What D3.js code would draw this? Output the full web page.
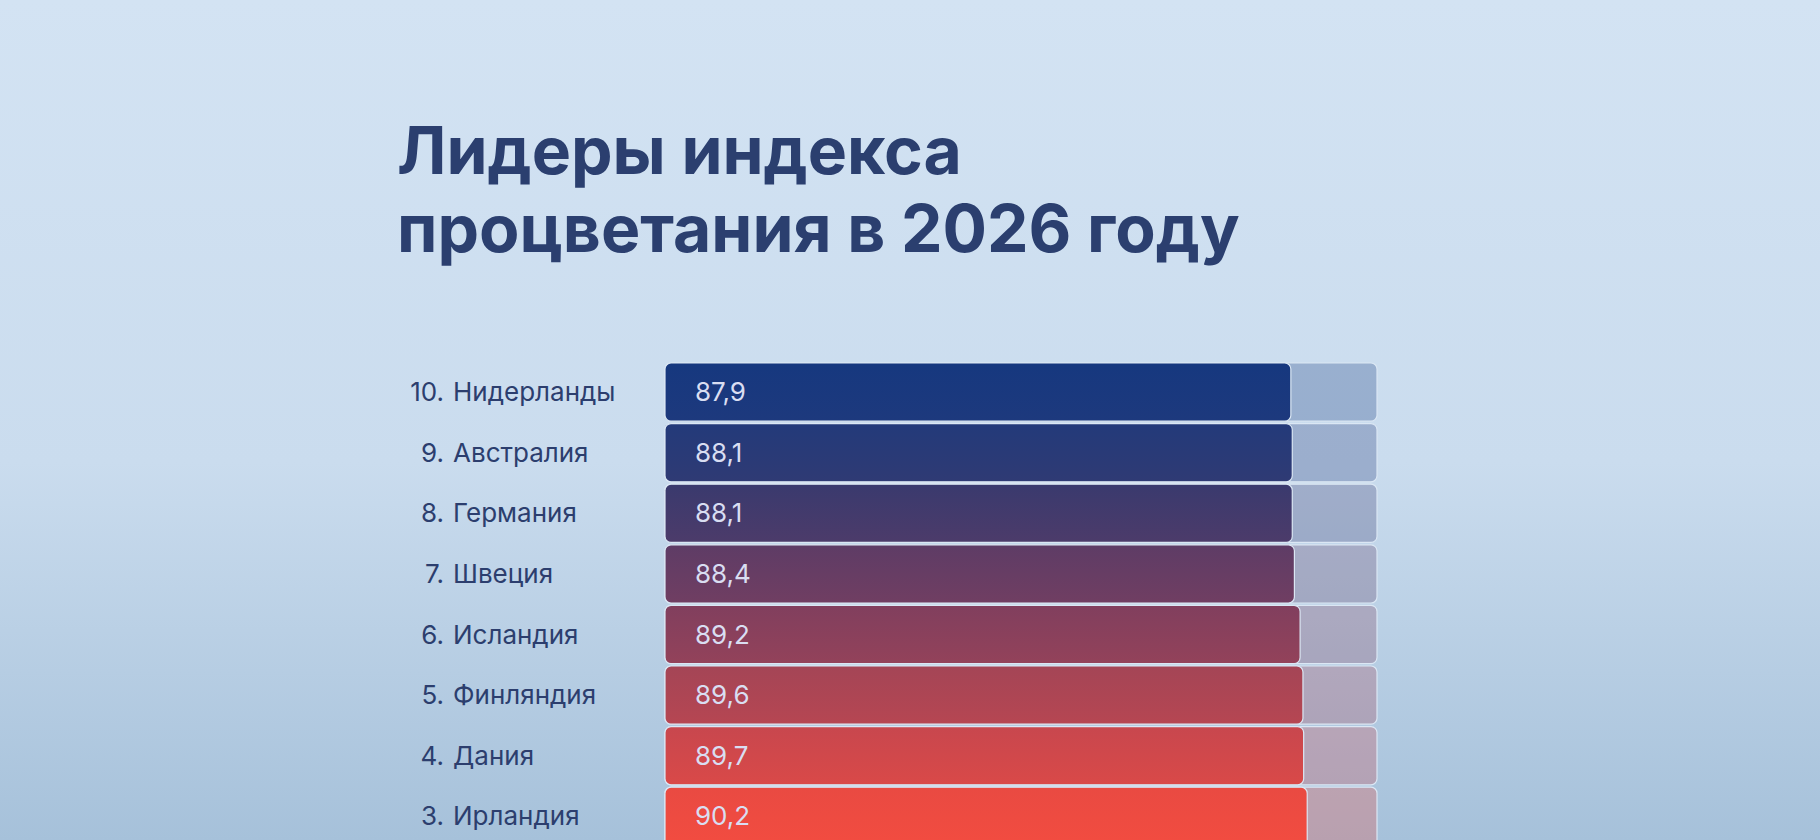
<!DOCTYPE html>
<html><head><meta charset="utf-8">
<script src="https://cdn.jsdelivr.net/npm/d3@7"></script>
<style>body{margin:0;overflow:hidden}</style>
</head><body>
<script>
// leaders of the prosperity index, rows 10..3
const ranks = ["10.", "9.", "8.", "7.", "6.", "5.", "4.", "3."];
const countries = ["Нидерланды", "Австралия", "Германия", "Швеция", "Исландия", "Финляндия", "Дания", "Ирландия"];
const values = [87.9, 88.1, 88.1, 88.4, 89.2, 89.6, 89.7, 90.2];
const barColors = ["#16387f", "#233a7a", "#3a3a6e", "#5e3c66", "#813f5e", "#a44556", "#c8474e", "#e94a42"];

const width = 1820, height = 840;
const svg = d3.select("body").append("svg").attr("width", width).attr("height", height);
const defs = svg.append("defs");

const bg = defs.append("linearGradient").attr("id", "bg").attr("x1", 0).attr("y1", 0).attr("x2", 0).attr("y2", 1);
bg.append("stop").attr("offset", "0").attr("stop-color", "#d3e3f3");
bg.append("stop").attr("offset", "0.55").attr("stop-color", "#cadcee");
bg.append("stop").attr("offset", "1").attr("stop-color", "#a6c1da");
svg.append("rect").attr("width", width).attr("height", height).attr("fill", "url(#bg)");

svg.append("text").attr("x", 397).attr("y", 174)
    .attr("font-family", "Inter").attr("font-weight", 700).attr("font-size", 66)
    .attr("fill", "#2b3f6f").text("Лидеры индекса");
svg.append("text").attr("x", 397).attr("y", 252)
    .attr("font-family", "Inter").attr("font-weight", 700).attr("font-size", 66)
    .attr("fill", "#2b3f6f").text("процветания в 2026 году");

const xScale = d3.scaleLinear().domain([0, 100]).range([665, 1377]);
const yScale = d3.scaleBand().domain(countries).range([363, 363 + 60.3 * countries.length]).paddingInner(0.04);

// per-bar vertical gradients
barColors.forEach((c, i) => {
    const g = defs.append("linearGradient").attr("id", "bar" + i).attr("x1", 0).attr("y1", 0).attr("x2", 0).attr("y2", 1);
    const next = barColors[Math.min(i + 1, barColors.length - 1)];
    g.append("stop").attr("offset", "0").attr("stop-color", c);
    g.append("stop").attr("offset", "1").attr("stop-color", i === barColors.length - 1 ? "#f24c40" : d3.interpolateRgb(c, next)(0.5));
});

const rows = svg.selectAll(".row").data(countries).enter().append("g");

rows.append("rect")
    .attr("x", xScale(0)).attr("y", d => yScale(d))
    .attr("width", xScale(100) - xScale(0)).attr("height", yScale.bandwidth())
    .attr("rx", 6).attr("fill", (d, i) => barColors[i]).attr("fill-opacity", 0.28)
    .attr("stroke", "#dbe7f4").attr("stroke-width", 1.2);

rows.append("rect")
    .attr("x", xScale(0)).attr("y", d => yScale(d))
    .attr("width", (d, i) => xScale(values[i]) - xScale(0)).attr("height", yScale.bandwidth())
    .attr("rx", 6).attr("fill", (d, i) => "url(#bar" + i + ")")
    .attr("stroke", "#dbe7f4").attr("stroke-width", 1.2);

rows.append("text")
    .attr("x", xScale(0) + 30).attr("y", d => yScale(d) + yScale.bandwidth() / 2 + 9)
    .attr("font-family", "Inter").attr("font-size", 26).attr("fill", "#d9def2")
    .text((d, i) => String(values[i]).replace(".", ","));

rows.append("text")
    .attr("x", 444).attr("y", d => yScale(d) + yScale.bandwidth() / 2 + 9)
    .attr("text-anchor", "end")
    .attr("font-family", "Inter").attr("font-size", 26).attr("fill", "#2c3e6e")
    .text((d, i) => ranks[i]);

rows.append("text")
    .attr("x", 453).attr("y", d => yScale(d) + yScale.bandwidth() / 2 + 9)
    .attr("font-family", "Inter").attr("font-size", 26).attr("fill", "#2c3e6e")
    .text(d => d);
</script>
</body></html>
